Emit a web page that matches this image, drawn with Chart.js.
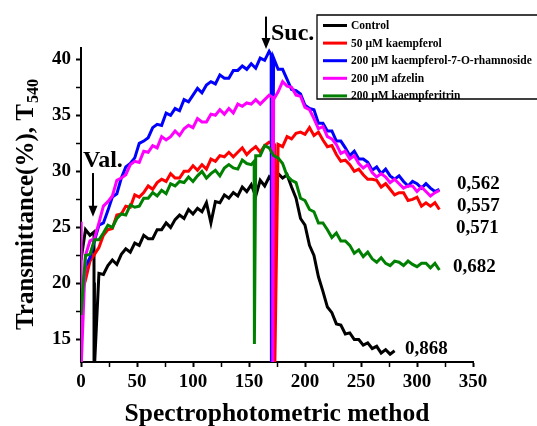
<!DOCTYPE html>
<html><head><meta charset="utf-8">
<script src="https://cdn.jsdelivr.net/npm/chart.js@4.4.1/dist/chart.umd.min.js"></script>
<style>html,body{margin:0;padding:0;background:#fff;} canvas{display:block;}</style>
</head><body>
<canvas id="c" width="537" height="426"></canvas>
<script>
// ---- data ----
const timeGrid = [0,4,8,12,16,20,24,28,32,36,40,44,48,52,56,60,64,68,72,76,80,84,88,92,96,100,104,108,112,116,120,124,128,132,136,140,144,148,152,156,160,164,168,172,176,180,184,188,192,196,200,204,208,212,216,220,224,228,232,236,240,244,248,252,256,260,264,268,272,276,280,284,288,292,296,300,304,308,312,316,320];

const seriesNames = ['Control','50 µM kaempferol','200 µM kaempferol-7-O-rhamnoside','200 µM afzelin','200 µM kaempferitrin'];
const seriesColors = ['#000000','#ff0000','#0000ff','#ff00ff','#008000'];

const controlT = [22.1,24.8,24.3,20.1,20.9,20.8,21.6,22.1,21.7,22.6,23.1,22.8,23.6,23.4,24.3,24.0,24.0,24.8,24.8,25.4,25.0,25.7,26.1,25.8,26.6,26.2,26.7,26.4,27.2,25.4,27.3,27.2,27.9,27.6,28.1,27.8,28.6,28.2,28.8,27.8,29.2,28.7,29.5,29.0,29.8,29.4,29.7,28.6,27.6,25.8,25.2,23.4,22.5,20.6,19.3,17.9,17.4,16.4,16.3,15.5,15.6,15.0,15.0,14.5,14.7,14.2,14.4,13.8,14.1,13.7,14.0];

const kaempferolT = [19.0,20.3,22.0,22.6,23.2,24.3,24.8,24.9,26.1,26.2,26.9,26.8,27.9,27.7,28.1,28.7,28.4,29.0,29.3,29.1,29.8,29.4,29.4,30.0,30.0,30.5,30.1,30.6,30.2,31.1,30.9,31.4,31.3,31.7,31.3,31.7,32.1,31.5,31.9,32.2,31.7,32.3,32.6,
  32.5,32.4,32.2,33.1,32.9,33.4,33.5,33.3,33.9,33.2,33.5,32.8,32.2,32.3,31.5,30.9,31.0,30.6,30.0,30.2,29.7,29.3,29.3,29.2,28.6,28.9,28.4,27.9,28.1,28.1,27.4,27.5,27.7,26.9,27.2,26.9,27.2,26.6];

const rhamnosideT = [18.8,21.5,22.3,23.8,25.2,25.4,26.5,27.7,28.0,29.4,30.4,30.7,31.2,32.5,32.7,33.0,33.9,34.2,34.1,35.2,35.0,35.6,35.4,36.4,36.2,36.8,37.4,37.0,37.7,38.0,37.8,38.6,38.3,38.3,39.0,39.0,39.4,39.1,39.6,39.2,40.1,39.9,40.7,
  40.1,39.1,39.1,38.2,37.3,37.2,36.9,35.9,35.6,35.5,34.3,34.3,33.6,33.6,32.7,32.7,32.1,31.4,31.8,31.1,31.1,30.8,30.1,30.4,29.8,30.2,29.6,29.3,29.6,29.1,28.7,29.1,28.9,28.5,28.9,28.5,28.2,28.4];

const afzelinT = [21.0,22.5,23.8,24.0,25.4,26.9,27.3,27.8,29.2,29.4,29.7,30.6,30.9,30.8,31.8,31.7,32.3,32.1,33.1,32.8,33.1,33.6,33.2,33.8,34.1,33.9,34.7,34.4,34.4,35.1,35.0,35.5,35.1,35.6,35.2,36.0,35.8,36.1,36.0,36.4,36.0,36.4,36.8,
  36.4,37.1,38.0,37.6,37.5,36.8,36.7,35.7,35.5,34.7,33.8,34.0,33.1,32.9,32.4,31.6,31.8,31.1,31.4,30.7,30.3,30.6,29.9,29.5,29.8,29.5,29.0,29.3,28.9,28.5,28.7,28.7,28.2,28.6,28.2,27.8,28.1,28.3];

const kaempferitrinT = [17.2,22.5,22.6,23.9,23.9,24.5,25.2,25.0,25.8,26.2,26.1,27.0,26.8,26.9,27.6,27.6,28.1,27.8,28.3,28.0,28.9,28.7,29.1,29.0,29.5,29.1,29.6,30.0,29.4,29.8,30.1,29.6,30.3,30.6,30.3,30.2,31.0,30.7,30.6,
  31.4,31.4,32.3,32.1,31.4,31.2,30.7,29.6,29.2,29.0,27.6,27.4,26.6,26.4,25.4,25.4,24.8,24.1,24.5,23.8,23.8,23.4,22.7,23.0,22.4,22.8,22.2,21.9,22.3,21.8,21.6,22.0,21.9,21.6,22.0,21.7,21.5,21.8,21.8,21.4,21.8,21.2];

// injection drops (vertical spikes)
const dropSeries = ['Control','200 µM kaempferitrin','200 µM kaempferol-7-O-rhamnoside','200 µM afzelin','200 µM afzelin','50 µM kaempferol'];
const dropAt   = [11.6, 154.6, 169.8, 0, 171.0, 172.8];
const dropFrom = [24.6, 30.9, 40.4, 25.5, 36.6, 32.4];
const dropTo   = [12.5, 14.6, 12.5, 12.5, 12.5, 12.5];

const xTickValues = [0,25,50,75,100,125,150,175,200,225,250,275,300,325,350];
const xMajorTicks = [0,50,100,150,200,250,300,350];
const yTickValues = [15,17.5,20,22.5,25,27.5,30,32.5,35,37.5,40];
const yMajorTicks = [15,20,25,30,35,40];

const endLabels = ['0,562','0,557','0,571','0,682','0,868'];
const endLabelX = [335.7, 335.7, 334.8, 332.1, 289.3];
const endLabelY = [28.88, 26.92, 24.96, 21.49, 14.11];

// ---- build ----
const seriesValues = [controlT, kaempferolT, rhamnosideT, afzelinT, kaempferitrinT];
function buildPoints(values, name) {
  const pts = values.map((v, i) => ({x: timeGrid[i], y: v}));
  dropSeries.forEach((s, k) => {
    if (s === name) {
      pts.push({x: dropAt[k], y: dropFrom[k]}, {x: dropAt[k] + 0.05, y: dropTo[k]}, {x: dropAt[k] + 0.4, y: dropTo[k]});
    }
  });
  pts.sort((a, b) => a.x - b.x);
  return pts;
}
const drawOrder = [4, 3, 2, 1, 0];
const datasets = seriesNames.map((n, i) => ({
  label: n,
  data: buildPoints(seriesValues[i], n),
  borderColor: seriesColors[i],
  backgroundColor: seriesColors[i],
  borderWidth: 3,
  pointRadius: 0,
  tension: 0,
  fill: false,
  order: drawOrder[i]
}));

const SERIF = '"Liberation Serif", "Times New Roman", serif';

function arrowDown(ctx, x, y1, y2) {
  ctx.beginPath();
  ctx.moveTo(x, y1); ctx.lineTo(x, y2 - 8);
  ctx.lineWidth = 2; ctx.strokeStyle = '#000'; ctx.stroke();
  ctx.beginPath();
  ctx.moveTo(x - 4.5, y2 - 11); ctx.lineTo(x + 4.5, y2 - 11); ctx.lineTo(x, y2); ctx.closePath();
  ctx.fillStyle = '#000'; ctx.fill();
}

const decorPlugin = {
  id: 'decor',
  afterDraw(chart) {
    const {ctx, chartArea} = chart;
    const xs = chart.scales.x, ys = chart.scales.y;
    ctx.save();
    ctx.fillStyle = '#000';
    // y title with subscript
    ctx.save();
    ctx.translate(33, (chartArea.top + chartArea.bottom) / 2);
    ctx.rotate(-Math.PI / 2);
    const main = 'Transmittance(%), T', sub = '540';
    ctx.font = 'bold 25px ' + SERIF;
    const wMain = ctx.measureText(main).width;
    ctx.font = 'bold 16px ' + SERIF;
    const wSub = ctx.measureText(sub).width;
    const start = -(wMain + wSub) / 2;
    ctx.textBaseline = 'alphabetic'; ctx.textAlign = 'left';
    ctx.font = 'bold 25px ' + SERIF;
    ctx.fillText(main, start, 0);
    ctx.font = 'bold 16px ' + SERIF;
    ctx.fillText(sub, start + wMain + 1, 5);
    ctx.restore();
    // x title
    ctx.font = 'bold 25.5px ' + SERIF;
    ctx.textAlign = 'center'; ctx.textBaseline = 'alphabetic';
    ctx.fillText('Spectrophotometric method', (chartArea.left + chartArea.right) / 2, 421);
    // Val. and Suc. annotations
    ctx.font = 'bold 24px ' + SERIF;
    ctx.textAlign = 'left';
    ctx.fillText('Val.', xs.getPixelForValue(1.8), ys.getPixelForValue(30.4));
    arrowDown(ctx, xs.getPixelForValue(10.7), ys.getPixelForValue(29.85), ys.getPixelForValue(25.95));
    ctx.fillText('Suc.', xs.getPixelForValue(169.6), ys.getPixelForValue(41.69));
    arrowDown(ctx, xs.getPixelForValue(165.2), ys.getPixelForValue(43.8), ys.getPixelForValue(40.9));
    // end values
    ctx.font = 'bold 19px ' + SERIF;
    ctx.textBaseline = 'middle';
    endLabels.forEach((t, i) => ctx.fillText(t, xs.getPixelForValue(endLabelX[i]), ys.getPixelForValue(endLabelY[i])));
    // legend box
    ctx.fillStyle = '#fff';
    ctx.fillRect(317, 15, 230, 84);
    ctx.beginPath();
    ctx.moveTo(545, 15); ctx.lineTo(317, 15); ctx.lineTo(317, 99); ctx.lineTo(545, 99);
    ctx.lineWidth = 1.3; ctx.strokeStyle = '#000'; ctx.stroke();
    ctx.font = 'bold 11.5px ' + SERIF;
    ctx.textBaseline = 'middle'; ctx.textAlign = 'left';
    seriesNames.forEach((n, i) => {
      const yy = 25.5 + i * 17.6;
      ctx.beginPath(); ctx.moveTo(323, yy); ctx.lineTo(347, yy);
      ctx.lineWidth = 3; ctx.strokeStyle = seriesColors[i]; ctx.stroke();
      ctx.fillStyle = '#000';
      ctx.fillText(n, 351, yy + 0.5);
    });
    ctx.restore();
  }
};

new Chart(document.getElementById('c'), {
  type: 'line',
  data: {datasets},
  options: {
    responsive: false,
    animation: false,
    layout: {padding: {left: 0, top: 48, right: 64, bottom: 0}},
    plugins: {legend: {display: false}, tooltip: {enabled: false}},
    scales: {
      x: {
        type: 'linear', min: 0, max: 350,
        afterBuildTicks: s => { s.ticks = xTickValues.map(v => ({value: v})); },
        afterFit: s => { s.height = 64; },
        ticks: {
          autoSkip: false, maxRotation: 0, padding: 4, color: '#000',
          font: {family: SERIF, weight: 'bold', size: 19},
          callback: v => xMajorTicks.includes(v) ? String(v) : ''
        },
        grid: {display: true, drawOnChartArea: false, drawTicks: true, tickLength: 5, tickColor: '#000',
               tickWidth: c => xMajorTicks.includes(c.tick && c.tick.value) ? 2 : 1.5},
        border: {display: true, color: '#000', width: 2}
      },
      y: {
        type: 'linear', min: 13, max: 41,
        afterBuildTicks: s => { s.ticks = yTickValues.map(v => ({value: v})); },
        afterFit: s => { s.width = 81; },
        ticks: {
          autoSkip: false, padding: 5, color: '#000',
          font: {family: SERIF, weight: 'bold', size: 19},
          callback: v => yMajorTicks.includes(v) ? String(v) : ''
        },
        grid: {display: true, drawOnChartArea: false, drawTicks: true, tickLength: 5, tickColor: '#000',
               tickWidth: c => yMajorTicks.includes(c.tick && c.tick.value) ? 2 : 1.5},
        border: {display: true, color: '#000', width: 2}
      }
    }
  },
  plugins: [decorPlugin]
});
</script>
</body></html>
